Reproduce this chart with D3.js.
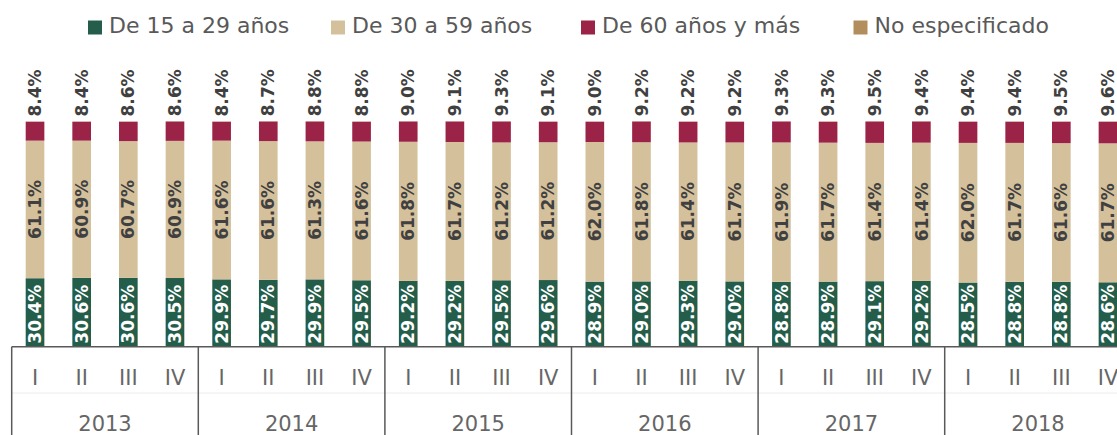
<!DOCTYPE html>
<html>
<head>
<meta charset="utf-8">
<script src="https://cdn.jsdelivr.net/npm/d3@7"></script>
<style>
  html, body { margin: 0; padding: 0; background: #fff; overflow: hidden; }
</style>
</head>
<body>
<div id="chart"></div>
<script>
// data (% of total)
const years = ["2013", "2014", "2015", "2016", "2017", "2018"];
const quarters = ["I", "II", "III", "IV"];

const de15a29 = [30.4, 30.6, 30.6, 30.5, 29.9, 29.7, 29.9, 29.5, 29.2, 29.2, 29.5, 29.6,
                 28.9, 29.0, 29.3, 29.0, 28.8, 28.9, 29.1, 29.2, 28.5, 28.8, 28.8, 28.6];
const de30a59 = [61.1, 60.9, 60.7, 60.9, 61.6, 61.6, 61.3, 61.6, 61.8, 61.7, 61.2, 61.2,
                 62.0, 61.8, 61.4, 61.7, 61.9, 61.7, 61.4, 61.4, 62.0, 61.7, 61.6, 61.7];
const de60ymas = [8.4, 8.4, 8.6, 8.6, 8.4, 8.7, 8.8, 8.8, 9.0, 9.1, 9.3, 9.1,
                  9.0, 9.2, 9.2, 9.2, 9.3, 9.3, 9.5, 9.4, 9.4, 9.4, 9.5, 9.6];
const noEspecificado = [0.1, 0.1, 0.1, 0.1, 0.1, 0.1, 0.1, 0.1, 0.1, 0.1, 0.1, 0.1,
                        0.1, 0.1, 0.1, 0.1, 0.1, 0.1, 0.1, 0.1, 0.1, 0.1, 0.1, 0.1];

const seriesNames = ["De 15 a 29 años", "De 30 a 59 años", "De 60 años y más", "No especificado"];
const seriesColors = ["#255d4b", "#d4c19c", "#9c2348", "#b38e5d"];

// build rows for the stack
const keys = ["s0", "s1", "s2", "s3"];
const rows = [];
years.forEach(function(yr, i) {
    quarters.forEach(function(q, j) {
        const k = i * 4 + j;
        rows.push({ id: yr + "-" + q, year: yr, q: q,
                    s0: de15a29[k], s1: de30a59[k], s2: de60ymas[k], s3: noEspecificado[k] });
    });
});

const width = 1117, height = 435;
const left = 11.7, step = 46.65;
const base = 346.7;

const svg = d3.select("#chart").append("svg")
    .attr("width", width)
    .attr("height", height);

const x = d3.scaleBand()
    .domain(rows.map(d => d.id))
    .range([left, left + step * rows.length])
    .paddingInner(0.6)
    .paddingOuter(0.3);

const xYear = d3.scaleBand()
    .domain(years)
    .range([left, left + step * rows.length]);

const y = d3.scaleLinear()
    .domain([0, 100])
    .range([base, base - 225.2]);

const color = d3.scaleOrdinal().domain(keys).range(seriesColors);

const stacked = d3.stack().keys(keys)(rows);

// bars
svg.append("g")
    .selectAll("g")
    .data(stacked)
    .join("g")
    .attr("fill", d => color(d.key))
    .selectAll("rect")
    .data(d => d)
    .join("rect")
    .attr("x", d => x(d.data.id))
    .attr("width", x.bandwidth())
    .attr("y", d => y(d[1]))
    .attr("height", d => y(d[0]) - y(d[1]));

const labelFont = "'DejaVu Sans', sans-serif";
const bw = x.bandwidth();

function vlabel(g, xs, ys, txt, anchor, fill) {
    g.append("text")
        .attr("transform", "translate(" + xs + "," + ys + ") rotate(-90)")
        .attr("dy", "0.36em")
        .attr("text-anchor", anchor)
        .style("font-family", labelFont)
        .style("font-weight", "bold")
        .style("font-size", "17px")
        .style("fill", fill)
        .text(txt);
}

const labels = svg.append("g");
rows.forEach(function(d) {
    const cx = x(d.id) + bw / 2;
    // green: inside base, white
    vlabel(labels, cx, y(0) - 3, d.s0.toFixed(1) + "%", "start", "#ffffff");
    // tan: centred
    vlabel(labels, cx, (y(d.s0) + y(d.s0 + d.s1)) / 2, d.s1.toFixed(1) + "%", "middle", "#404040");
    // maroon: above the bar
    vlabel(labels, cx, y(d.s0 + d.s1 + d.s2 + d.s3) - 5, d.s2.toFixed(1) + "%", "start", "#404040");
});

// faint line between quarter row and year row
svg.append("line")
    .attr("x1", left).attr("x2", width)
    .attr("y1", 393).attr("y2", 393)
    .attr("stroke", "#ececec").attr("stroke-width", 1);

// quarter axis
const qAxis = svg.append("g")
    .attr("transform", "translate(0," + base + ")")
    .call(d3.axisBottom(x).tickSize(0).tickPadding(0).tickFormat(id => id.split("-")[1]));
qAxis.select(".domain").remove();
qAxis.selectAll("text")
    .attr("y", 38.5)
    .attr("dy", 0)
    .style("font-family", "'DejaVu Sans', sans-serif")
    .style("font-size", "21px")
    .style("fill", "#666666");

// year axis
const yAxis = svg.append("g")
    .attr("transform", "translate(0," + base + ")")
    .call(d3.axisBottom(xYear).tickSize(0).tickPadding(0));
yAxis.select(".domain").remove();
yAxis.selectAll("text")
    .attr("y", 84.3)
    .attr("dy", 0)
    .style("font-family", "'DejaVu Sans', sans-serif")
    .style("font-size", "21px")
    .style("fill", "#666666");

// baseline and year separators
svg.append("line")
    .attr("x1", left).attr("x2", width)
    .attr("y1", base).attr("y2", base)
    .attr("stroke", "#595959").attr("stroke-width", 1.5);

svg.append("g")
    .selectAll("line")
    .data(years)
    .join("line")
    .attr("x1", d => xYear(d)).attr("x2", d => xYear(d))
    .attr("y1", base).attr("y2", height)
    .attr("stroke", "#595959").attr("stroke-width", 1.5);

// legend
const legendX = [88, 331, 581, 853.5];
const legend = svg.append("g");
seriesNames.forEach(function(name, i) {
    legend.append("rect")
        .attr("x", legendX[i]).attr("y", 20.5)
        .attr("width", 14).attr("height", 14)
        .attr("fill", seriesColors[i]);
    legend.append("text")
        .attr("x", legendX[i] + 21).attr("y", 32.5)
        .style("font-family", "'DejaVu Sans', sans-serif")
        .style("font-size", "22px")
        .style("fill", "#595959")
        .text(name);
});
</script>
</body>
</html>
